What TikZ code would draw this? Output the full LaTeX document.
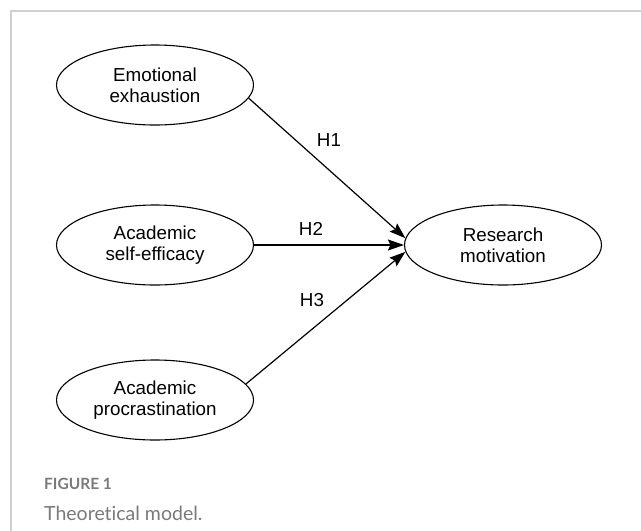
\documentclass[tikz,border=0pt]{standalone}
\usepackage{fontspec}
\setmainfont{Liberation Sans}
\newfontfamily\capfont[Ligatures=NoCommon]{Lato}
\usetikzlibrary{shapes.geometric,arrows.meta}
\definecolor{framegray}{HTML}{D0D0D0}
\definecolor{capgray}{HTML}{7A7A7A}

\begin{document}
\begin{tikzpicture}[x=1pt,y=-1pt,
	construct/.style={draw, ellipse, line width=1.1pt, minimum width=197pt, minimum height=80pt,
		inner sep=0pt, align=center, font=\fontsize{18.8}{21}\selectfont},
	hyparrow/.style={-{Stealth[length=16pt,width=11pt,inset=2.5pt]}, line width=1.2pt},
	hyp/.style={font=\fontsize{18.8}{21}\selectfont}]
		\useasboundingbox (0,0) rectangle (641,531);
		\draw[framegray, line width=2pt] (11,531) -- (11,11) -- (641,11);
		\node[construct] (ee) at (155,85) {Emotional\\exhaustion};
		\node[construct] (ase) at (155,245) {Academic\\self-efficacy};
		\node[construct] (ap) at (155,400) {Academic\\procrastination};
		\node[construct] (rm) at (503,245) {Research\\motivation};
		\draw[hyparrow] (ee.-8) -- (rm.176);
		\draw[hyparrow] (ase.east) -- (rm.west);
		\draw[hyparrow] (ap.10) -- (rm.184);
		\node[hyp] (h1) at (329,140) {H1};
		\node[hyp] (h2) at (311,229) {H2};
		\node[hyp] (h3) at (312,300) {H3};
	%
		\node[anchor=base west, inner sep=0pt, text=capgray,
			font=\capfont\bfseries\fontsize{15.5}{18}\selectfont] (fig) at (44,489) {FIGURE 1};
		\node[anchor=base west, inner sep=0pt, text=capgray,
			font=\capfont\fontsize{19.5}{23}\selectfont] (cap) at (44,520) {Theoretical model.};
	\end{tikzpicture}
\end{document}
